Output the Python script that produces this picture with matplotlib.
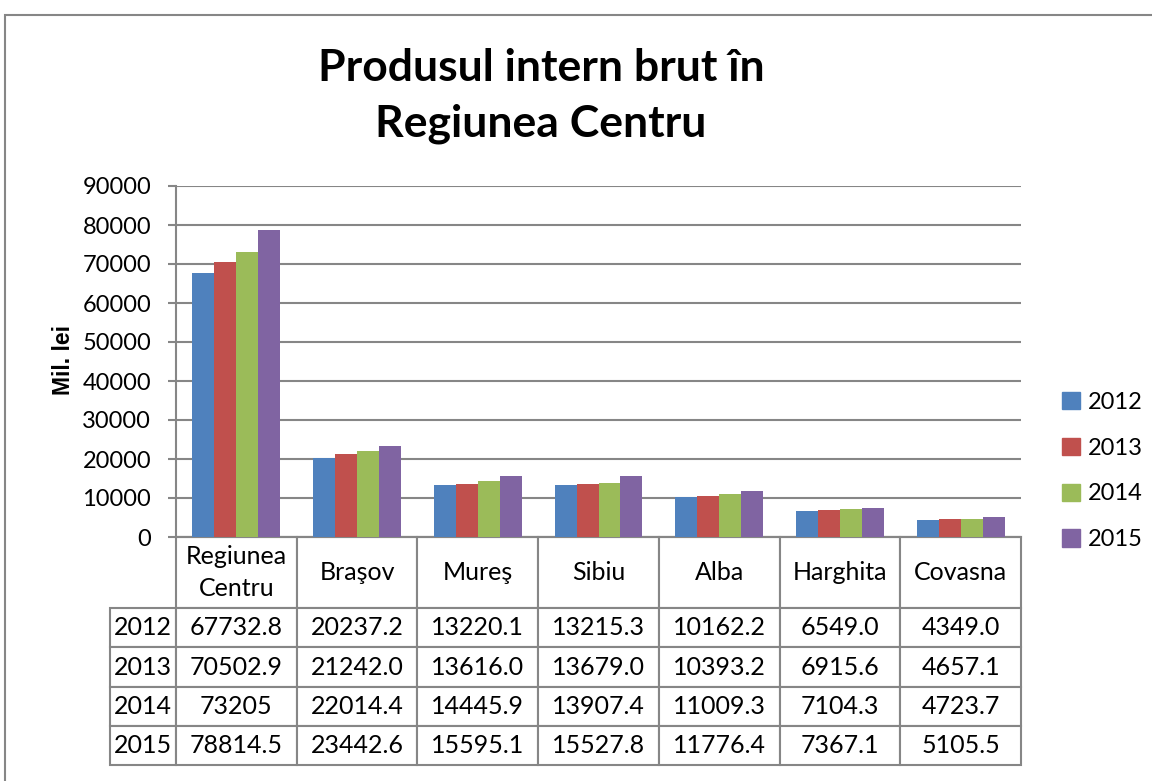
import matplotlib.pyplot as plt
import numpy as np
from matplotlib.patches import Rectangle

counties = ['Regiunea\nCentru', 'Braşov', 'Mureş', 'Sibiu', 'Alba', 'Harghita', 'Covasna']
years = ['2012', '2013', '2014', '2015']
pib_2012 = [67732.8, 20237.2, 13220.1, 13215.3, 10162.2, 6549.0, 4349.0]
pib_2013 = [70502.9, 21242.0, 13616.0, 13679.0, 10393.2, 6915.6, 4657.1]
pib_2014 = [73205, 22014.4, 14445.9, 13907.4, 11009.3, 7104.3, 4723.7]
pib_2015 = [78814.5, 23442.6, 15595.1, 15527.8, 11776.4, 7367.1, 5105.5]
yticks = [0, 10000, 20000, 30000, 40000, 50000, 60000, 70000, 80000, 90000]

series = [pib_2012, pib_2013, pib_2014, pib_2015]
colors = ['#4F81BD', '#C0504D', '#9BBB59', '#8064A2']
gray = '#868686'

plt.rcParams['font.family'] = ['Lato', 'DejaVu Sans']

fig = plt.figure(figsize=(11.52, 7.81), dpi=100)
W, H = 1152, 781

# plot area in pixel coords: x 176..1021, y 186..537
ax = fig.add_axes([176 / W, 1 - 537 / H, (1021 - 176) / W, (537 - 186) / H])

x = np.arange(len(counties))
bw = 0.182
for i, (vals, c) in enumerate(zip(series, colors)):
    ax.bar(x + (i - 1.5) * bw, vals, width=bw, color=c, zorder=3)

ax.set_xlim(-0.5, len(counties) - 0.5)
ax.set_ylim(0, 90000)
ax.set_yticks(yticks)
ax.set_yticklabels([str(t) for t in yticks], fontsize=17)
ax.tick_params(axis='y', length=6, width=1.5, color=gray, pad=12)
ax.set_xticks([])
ax.yaxis.grid(True, color=gray, linewidth=1.5, zorder=0)
for s in ['top', 'right']:
    ax.spines[s].set_visible(False)
for s in ['left', 'bottom']:
    ax.spines[s].set_color(gray)
    ax.spines[s].set_linewidth(1.5)


def fmt(v):
    return str(v) if isinstance(v, int) else f'{v:.1f}'


cell_text = [[''] + counties] + [[y] + [fmt(v) for v in vals] for y, vals in zip(years, series)]
tbl = ax.table(cellText=cell_text, cellLoc='center',
               bbox=[(110 - 176) / 845, -(765 - 537) / 351, (1021 - 110) / 845, (765 - 537) / 351])
tbl.auto_set_font_size(False)
tbl.set_fontsize(18)
for (r, c), cell in tbl.get_celld().items():
    cell.set_width(66 if c == 0 else 120.7)
    cell.set_height(71 if r == 0 else 39)
    cell.set_edgecolor(gray)
    cell.set_linewidth(1.5)
    if r == 0:
        cell.get_text().set_linespacing(1.5)
tbl[0, 0].visible_edges = ''

# legend
handles = [Rectangle((0, 0), 1, 1, color=c) for c in colors]
fig.legend(handles, years, loc='center left', bbox_to_anchor=(1062 / W, 1 - 471 / H),
           frameon=False, fontsize=17, handlelength=0.75, handleheight=0.75,
           handletextpad=0.35, labelspacing=1.05, borderaxespad=0, borderpad=0)

# title and y label
fig.text(541 / W, 1 - 96 / H, 'Produsul intern brut în\nRegiunea Centru', ha='center', va='center',
         fontsize=32, fontweight='bold', linespacing=1.45)
fig.text(63 / W, 1 - 360 / H, 'Mil. lei', rotation=90, ha='center', va='center',
         fontsize=16.5, fontweight='bold', family=['Liberation Sans', 'DejaVu Sans'])

# chart border
fig.patches.append(Rectangle((5 / W, -0.2), 1.5, 1 - 15 / H + 0.2, transform=fig.transFigure,
                             fill=False, edgecolor=gray, linewidth=1.5))

fig.savefig('out.png', dpi=100)
